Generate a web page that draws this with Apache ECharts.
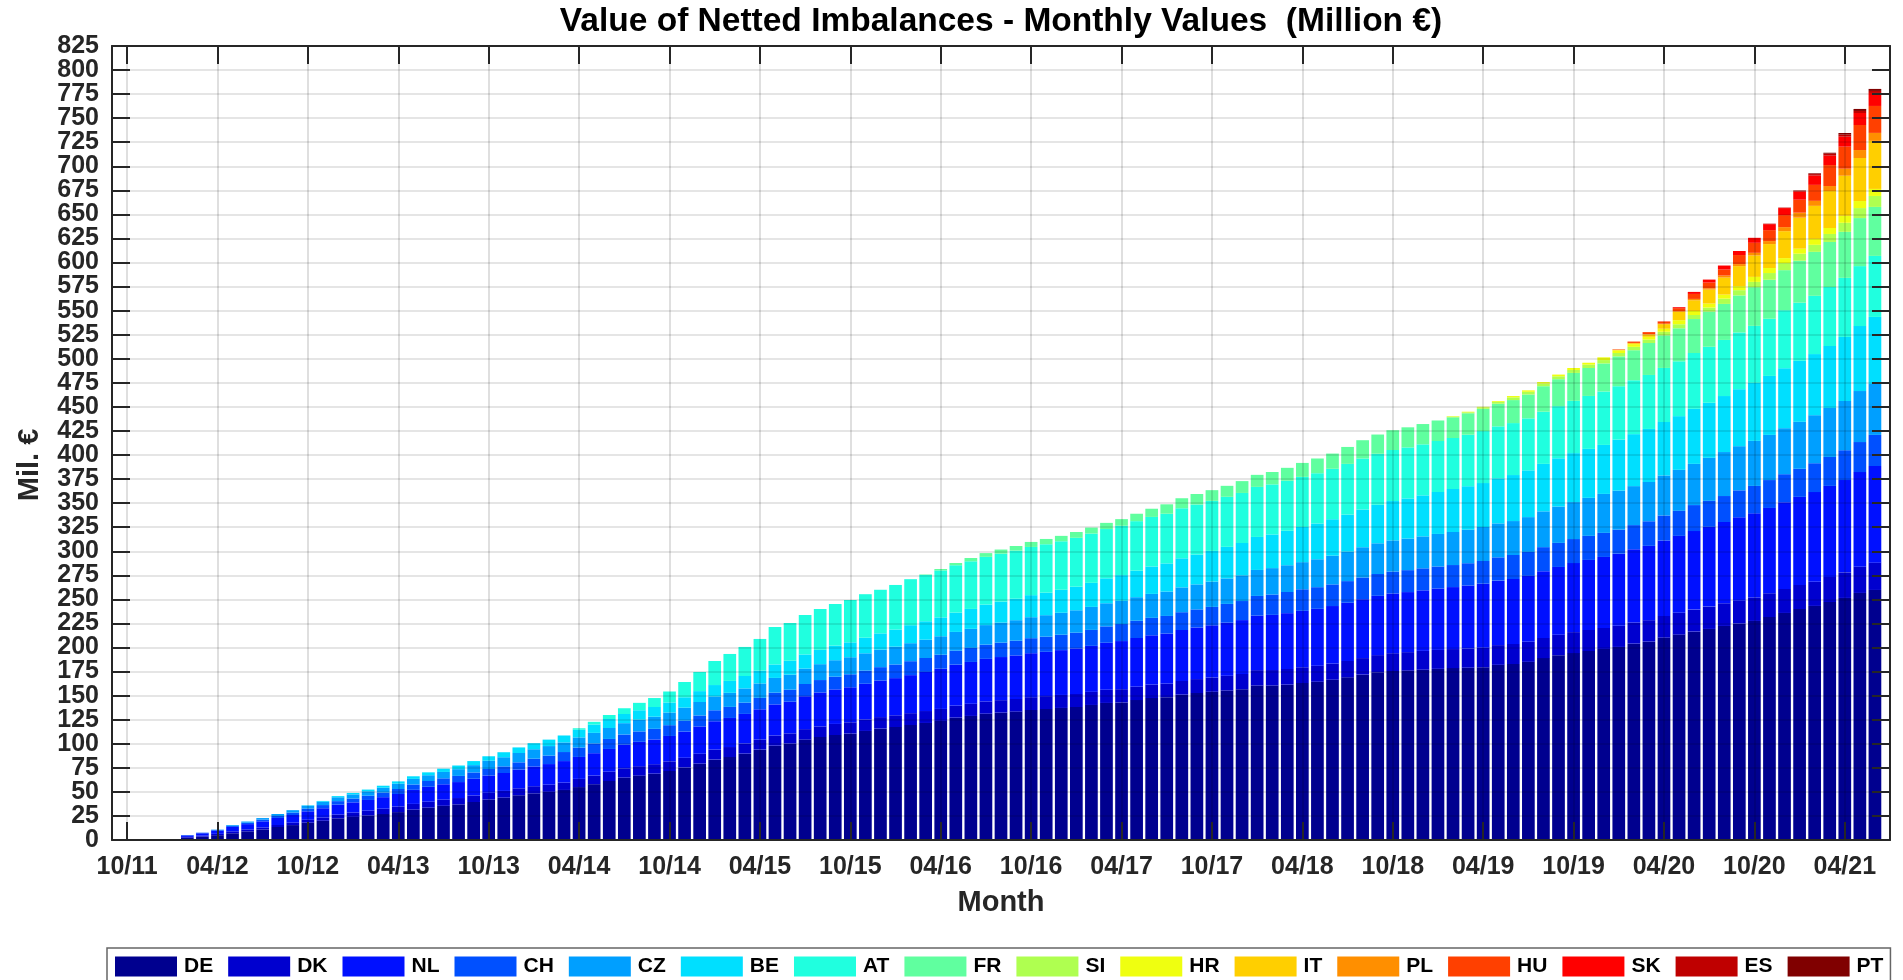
<!DOCTYPE html>
<html>
<head>
<meta charset="utf-8">
<title>Value of Netted Imbalances</title>
<script src="https://cdn.jsdelivr.net/npm/echarts@6/dist/echarts.min.js"></script>
<style>
  html, body { margin: 0; padding: 0; background: #fff; }
  #chart { width: 1903px; height: 980px; }
</style>
</head>
<body>
<div id="chart"></div>
<script>
// months 10/11 .. 06/21, one bar per month
var months = [];
for (var i = 0; i < 117; i++) {
  var mm = (9 + i) % 12 + 1;
  var yy = 11 + Math.floor((9 + i) / 12);
  months.push((mm < 10 ? '0' : '') + mm + '/' + yy);
}
var tickIdx = [];
for (var t = 0; t < 117; t += 6) tickIdx.push(t);

var yTicks = { min: 0, max: 825, step: 25 };
// y labels split over two axes so none of them gets hidden as overlapping
var yLabelsEven = [], yLabelsOdd = [];
for (var v = yTicks.min; v <= yTicks.max; v += yTicks.step) {
  ((v / yTicks.step) % 2 === 0 ? yLabelsEven : yLabelsOdd).push(v);
}

var countries = ['DE', 'DK', 'NL', 'CH', 'CZ', 'BE', 'AT', 'FR', 'SI', 'HR', 'IT', 'PL', 'HU', 'SK', 'ES', 'PT'];
var colors = ['#00008F', '#0000CF', '#0010FF', '#0050FF', '#009FFF', '#00DFFF', '#20FFDF', '#60FF9F',
  '#AFFF50', '#EFFF10', '#FFCF00', '#FF8F00', '#FF4000', '#FF0000', '#BF0000', '#800000'];

// zeros before a country joined
function fromMonth(start, vals) {
  var out = [];
  for (var i = 0; i < start; i++) out.push(0);
  return out.concat(vals);
}

var DE = [0, 0.6, 0.6, 0.6, 2.4, 3.5, 5, 7, 9, 11,
  13.5, 15.5, 18, 20, 22.5, 24, 25.3, 27, 29, 31.5,
  33.6, 35.5, 37, 39.5, 42, 44, 46.5, 48.5, 50, 52,
  55, 58, 61.3, 64.8, 66.9, 68.9, 71.7, 75.2, 79.3, 83.5,
  86.2, 89.7, 93.9, 98, 100.1, 104.3, 107, 109.1, 110.5, 113.3,
  115.7, 117.4, 119.5, 121.6, 123.7, 127.1, 128.9, 131.2, 132.3, 133.4,
  135.1, 136.1, 137.2, 138.2, 140.3, 142.4, 142.9, 145.4, 147.5, 148.4,
  151, 152.7, 154, 155.3, 156.6, 160.5, 160.5, 161.4, 163.1, 164.4,
  166.5, 169, 171.8, 174.3, 175.6, 176, 176.9, 177.8, 178.6, 179,
  179.5, 182, 182.9, 185.1, 189, 192, 194.2, 196.4, 198.5, 200.6,
  204, 206.1, 210.3, 213.4, 216.5, 219.3, 222.4, 224.8, 227.6, 231.7,
  235.9, 240, 243.2, 247.3, 251.5, 256.7, 259.8];

var DK = [0, 0.4, 0.4, 0.4, 0.8, 1, 1.4, 2, 2, 2,
  2.1, 2.5, 3, 3.5, 4, 4.5, 5.2, 5.5, 5.8, 6,
  6.2, 6.4, 6.6, 6.8, 7, 7, 7.2, 7.4, 7.5, 7.6,
  8.5, 9, 9.7, 9.7, 9.8, 9.9, 10, 10.2, 10.3, 10.4,
  10.4, 10.5, 10.5, 10.6, 10.7, 10.9, 11, 11.5, 11.8, 11.9,
  12, 12.2, 12.3, 12.4, 12.5, 12.5, 12.6, 12.8, 13, 13.1,
  13.3, 13.4, 13.5, 13.5, 13.6, 13.7, 13.8, 13.9, 14, 14.1,
  14.2, 14.5, 14.8, 15.3, 15.9, 16, 16.1, 16.3, 16.4, 16.6,
  16.8, 17, 17.2, 17.8, 18.5, 19.2, 19.6, 19.7, 19.8, 19.9,
  20.3, 20.5, 20.8, 20.8, 20.9, 21.3, 21.8, 21.8, 21.8, 22,
  22, 22.3, 22.5, 22.7, 22.9, 23.2, 23.6, 23.9, 24.4, 24.7,
  24.9, 25, 25.1, 26, 26.6, 27.2, 28.4];

var NL = fromMonth(4, [1.5, 2.5, 3.3, 4.6, 5.5, 6.4,
  7.3, 8, 8.8, 9.5, 10.2, 10.6, 11.1, 12, 13, 14.6,
  15.5, 16, 16.6, 17.3, 18, 18.6, 19.5, 20.5, 21.4, 22.4,
  22.8, 23.2, 23.6, 24.5, 25.3, 25.7, 26.4, 27.2, 28.4, 29.5,
  30.2, 30.8, 31.4, 32.3, 32.9, 34.2, 35.3, 35.9, 36.4, 37.1,
  38, 38.6, 39.5, 40.6, 41.8, 42.6, 43.5, 44.2, 44.8, 45.3,
  45.7, 46, 46.6, 47.4, 47.8, 48.8, 50, 50.6, 51.2, 52,
  53, 53.6, 54.3, 55.2, 56, 56.6, 57.3, 58, 58.6, 59.2,
  59.8, 60.5, 61.2, 61.6, 62, 62.4, 62.9, 63.8, 64.4, 65.5,
  66.5, 67, 67.5, 68.5, 69.4, 70.4, 71.7, 72.8, 73.8, 74.9,
  76.2, 77.2, 78.4, 79.9, 81.6, 82.9, 84.4, 86.6, 87.4, 88.6,
  90.2, 91.5, 93.2, 94.6, 95.9, 98.4, 100.4]);

var CH = fromMonth(4, [0.5, 0.6, 0.8, 1.2, 1.5, 1.8,
  2.1, 2.5, 2.9, 3.3, 3.7, 4, 4.4, 4.8, 5.2, 5.6,
  6, 6.2, 6.4, 6.6, 6.8, 6.9, 7.5, 8.1, 8.8, 9.4,
  9.8, 10.1, 10.4, 10.6, 10.8, 11, 11.2, 11.3, 11.4, 11.4,
  11.5, 11.7, 11.9, 12.2, 12.5, 12.7, 12.9, 13.2, 13.5, 13.7,
  13.9, 14.2, 14.5, 14.5, 14.5, 14.5, 14.6, 14.8, 15, 15.3,
  15.6, 15.8, 16, 16.3, 16.6, 17.1, 17.7, 17.9, 18.1, 18.3,
  18.5, 18.8, 19.1, 19.5, 19.8, 20.5, 21.2, 22, 22.4, 22.5,
  22.5, 22.5, 22.6, 22.7, 22.8, 22.8, 22.9, 22.9, 22.9, 23.2,
  23.6, 24.2, 24.9, 24.9, 25, 25, 25, 25, 25, 25,
  25, 25.6, 26, 26, 27, 27, 27, 28, 28.5, 29,
  29.1, 29.2, 30, 30.1, 31, 31.2, 32.3]);

var CZ = fromMonth(6, [0.3, 0.8, 1.2, 1.6,
  2, 2.5, 3, 3.5, 4, 4.3, 4.6, 5, 5.5, 5.8,
  6, 6.6, 7, 7.6, 8.6, 9.5, 9.7, 9.8, 9.9, 10,
  10.5, 11, 11.4, 11.8, 12.2, 12.6, 13.2, 13.6, 14, 14.3,
  14.6, 14.8, 15, 15.3, 15.6, 16, 16.5, 17.1, 17.7, 18,
  18.2, 18.5, 18.7, 19, 19.2, 19.5, 19.8, 20.3, 20.8, 21.3,
  21.8, 22.3, 22.8, 23.3, 23.9, 24, 24.1, 24.5, 24.9, 25.3,
  25.8, 26, 26.3, 26.5, 26.7, 27, 27.4, 27.8, 28.2, 29,
  29.8, 30.6, 31.4, 31.9, 32.4, 32.8, 33.2, 33.8, 34.3, 34.8,
  35.3, 35.3, 35.3, 36.2, 37.2, 37.8, 38.4, 39.5, 40.5, 40.5,
  40.5, 40.8, 41.6, 42.6, 42.8, 44.7, 45.7, 45.9, 46.8, 46.9,
  47.8, 48.8, 49.9, 50.9, 51.2, 53, 53]);

var BE = fromMonth(12, [0.4, 0.8, 1.2, 1.5, 1.8, 2.1, 2.4, 2.7,
  3, 3.4, 3.8, 4.2, 4.6, 5.2, 5.8, 6.3, 6.7, 7.2,
  8, 8.7, 9.3, 9.5, 9.8, 10.1, 10.4, 10.8, 11.3, 11.9,
  12.4, 12.9, 13.4, 14, 14.5, 14.7, 14.9, 15.2, 15.5, 16.2,
  16.9, 17.8, 18.7, 19.2, 19.6, 20.1, 20.7, 21.3, 21.8, 22.3,
  22.9, 23.4, 23.9, 24.5, 25, 25.9, 26.7, 27.6, 28.5, 29.3,
  30.2, 31, 31.9, 32.8, 33.6, 34.3, 35, 35.8, 36.6, 37.2,
  37.9, 38.5, 39.2, 40, 40.9, 41.7, 42.6, 43.6, 44.7, 45.2,
  45.7, 46.8, 47.8, 48.6, 49.3, 50.1, 50.9, 50.9, 50.9, 53,
  54, 55.1, 55.5, 55.8, 57.2, 57.2, 58.2, 59.2, 60.3, 61.3,
  62.3, 63.4, 63.5, 64.4, 66.5, 67.5, 69.6]);

var AT = fromMonth(30, [1.5, 2.8, 4.2, 6, 7.7, 9.3, 11.4, 15.9, 19.9, 25,
  28, 30.2, 32.8, 38.9, 39.2, 41, 42.4, 43.2, 44, 45.2,
  45.3, 46.3, 47.8, 48.1, 48.8, 49.2, 49.5, 49.6, 49.8, 50,
  50.1, 50.3, 50.4, 50.8, 51.2, 51.2, 51.3, 51.4, 51.5, 51.6,
  52, 52, 52, 52, 52, 52, 52, 52, 52, 52.2,
  52.4, 52.7, 53, 53, 53, 53, 53, 53, 53, 53.5,
  54, 54, 54, 54, 54.2, 54.2, 54.3, 55, 55.5, 55.5,
  56, 56.1, 56.2, 57, 58, 58.2, 58.3, 59, 59.2, 59.4,
  60.3, 60.4, 60.5, 61.3, 61.4, 62.3, 63.4]);

var FR = fromMonth(53, [0.5, 1.5, 2.3, 3.4, 3.9, 4.3, 4.8,
  5.2, 5.5, 5.6, 6, 6.2, 6.4, 6.9, 7.7, 8.5, 9.8,
  10.4, 10.9, 11.1, 11.4, 12.3, 12.5, 12.9, 13.4, 14.5, 15.3,
  15.8, 17.6, 19, 20, 20.6, 20.9, 21.1, 21.3, 21.5, 22.3,
  23.1, 23.5, 23.9, 24.8, 26.5, 28, 29, 29, 29.2, 31,
  31.2, 33.2, 33.8, 34.3, 35.3, 36.5, 37.4, 38.4, 40.2, 40.5,
  41.6, 43.6, 45.7, 46.8, 47.8, 49.9, 50.9]);

var SI = fromMonth(88, [0.7, 1, 1.5, 2, 2.8, 2.8, 2.8, 3, 3.1, 3.5, 3.5, 3.5,
  3.5, 3.5, 3.8, 4.2, 4.2, 4.2, 5.5, 5.5, 5.5, 7,
  7.3, 7.3, 7.3, 8.3, 9.4, 10.4, 11.4]);

var HR = fromMonth(88, [0.5, 0.6, 0.6, 0.8, 1.4, 1.5, 1.5, 1.8, 2, 2, 2.8, 2.8,
  2.8, 2.9, 3.1, 4.2, 4.2, 4.2, 4.2, 4.2, 5.2, 5.2,
  5.2, 5.2, 6.2, 6.2, 7.3, 7.3, 7.3]);

var IT = fromMonth(99, [0.5,
  1, 2.4, 4.8, 8.7, 11.1, 14.5, 17.7, 20.8, 22.2, 24.9,
  28, 32.2, 34.3, 38.4, 41.6, 44.7, 49.9]);

var PL = fromMonth(100, [0.3, 0.4, 0.5, 0.8, 1.4, 1.4, 2.1, 2.1, 2.8, 3.1,
  4.2, 5.2, 5.2, 5.2, 7.3, 8.3, 8.3]);

var HU = fromMonth(99, [0.5,
  1.4, 2.1, 2.1, 3, 5.2, 5.9, 6.2, 9.4, 10.4, 11.4,
  12.5, 13.5, 16.6, 21.8, 22.9, 26, 28]);

var SK = fromMonth(102, [0.3, 1, 2.1, 3.1, 4.2, 4.2, 5.2, 6.2,
  7.3, 8.3, 9.7, 9.8, 10.4, 12.5, 13.5]);

var ES = fromMonth(109, [0.5, 0.5, 0.8, 1.5, 2, 2.1, 2.1, 2.1]);

var PT = fromMonth(111, [0.5, 0.8, 1, 1.7, 2.1, 2.1]);

var values = [DE, DK, NL, CH, CZ, BE, AT, FR, SI, HR, IT, PL, HU, SK, ES, PT];

var font = '"Liberation Sans", Arial, Helvetica, sans-serif';
var axisColor = '#262626';
var tickLabelStyle = { fontFamily: font, fontSize: 25, fontWeight: 'bold', color: axisColor };

var series = countries.map(function (name, k) {
  return {
    name: name,
    type: 'bar',
    stack: 'total',
    barWidth: 12.7,
    itemStyle: { color: colors[k] },
    emphasis: { disabled: true },
    // value first so the stack runs on y
    encode: { x: 1, y: 0 },
    data: values[k].map(function (v, i) { return [v, i]; })
  };
});

var chart = echarts.init(document.getElementById('chart'));

chart.setOption({
  animation: false,
  backgroundColor: '#ffffff',
  textStyle: { fontFamily: font },
  title: {
    text: 'Value of Netted Imbalances - Monthly Values  (Million \u20ac)',
    left: 1001,
    top: 5,
    padding: 0,
    textAlign: 'center',
    textStyle: { fontFamily: font, fontSize: 33.5, fontWeight: 'bold', color: '#000' }
  },
  grid: {
    left: 112,
    right: 13,
    top: 46,
    bottom: 140,
    outerBoundsMode: 'none'
  },
  legend: {
    data: countries,
    left: 107,
    top: 948,
    orient: 'horizontal',
    icon: 'rect',
    itemWidth: 62,
    itemHeight: 20,
    itemGap: 15,
    padding: [8, 7, 8, 8],
    borderColor: '#666',
    borderWidth: 1.5,
    backgroundColor: '#fff',
    selectedMode: false,
    textStyle: { fontFamily: font, fontSize: 21, fontWeight: 'bold', color: '#000', padding: [0, 0, 0, 2] }
  },
  xAxis: [{
    type: 'value',
    position: 'bottom',
    min: -1,
    max: 117,
    z: 10,
    name: 'Month',
    nameLocation: 'middle',
    nameGap: 48,
    nameTextStyle: { fontFamily: font, fontSize: 29, fontWeight: 'bold', color: axisColor },
    axisLine: { show: true, onZero: false, lineStyle: { color: axisColor, width: 2 } },
    axisTick: { show: true, inside: true, length: 18, customValues: tickIdx, lineStyle: { color: axisColor, width: 2 } },
    axisLabel: Object.assign({
      customValues: tickIdx,
      margin: 15,
      formatter: function (v) { return months[Math.round(v)] || ''; }
    }, tickLabelStyle),
    splitLine: { show: false }
  }, {
    type: 'value',
    position: 'top',
    min: -1,
    max: 117,
    z: 10,
    axisLine: { show: true, onZero: false, lineStyle: { color: axisColor, width: 2 } },
    axisTick: { show: true, inside: true, length: 18, customValues: tickIdx, lineStyle: { color: axisColor, width: 2 } },
    axisLabel: { show: false, customValues: tickIdx },
    splitLine: { show: true, lineStyle: { color: 'rgba(0,0,0,0.17)', width: 1.5 } }
  }],
  yAxis: [{
    type: 'value',
    position: 'left',
    min: yTicks.min,
    max: yTicks.max,
    interval: yTicks.step,
    z: 10,
    name: 'Mil. \u20ac',
    nameLocation: 'middle',
    nameRotate: 90,
    nameGap: 68,
    nameTextStyle: { fontFamily: font, fontSize: 29, fontWeight: 'bold', color: axisColor, padding: [0, 44, 0, 0] },
    axisLine: { show: true, onZero: false, lineStyle: { color: axisColor, width: 2 } },
    axisTick: { show: true, inside: true, length: 18, lineStyle: { color: axisColor, width: 2 } },
    axisLabel: Object.assign({ margin: 13, customValues: yLabelsEven }, tickLabelStyle),
    splitLine: { show: false }
  }, {
    type: 'value',
    position: 'right',
    min: yTicks.min,
    max: yTicks.max,
    interval: yTicks.step,
    z: 10,
    axisLine: { show: true, onZero: false, lineStyle: { color: axisColor, width: 2 } },
    axisTick: { show: true, inside: true, length: 18, lineStyle: { color: axisColor, width: 2 } },
    axisLabel: { show: false },
    splitLine: { show: true, lineStyle: { color: 'rgba(0,0,0,0.1)', width: 2 } }
  }, {
    type: 'value',
    position: 'left',
    offset: 0,
    min: yTicks.min,
    max: yTicks.max,
    interval: yTicks.step,
    z: 10,
    axisLine: { show: false, onZero: false },
    axisTick: { show: false },
    axisLabel: Object.assign({ margin: 13, customValues: yLabelsOdd }, tickLabelStyle),
    splitLine: { show: false }
  }],
  series: series
});
</script>
</body>
</html>
